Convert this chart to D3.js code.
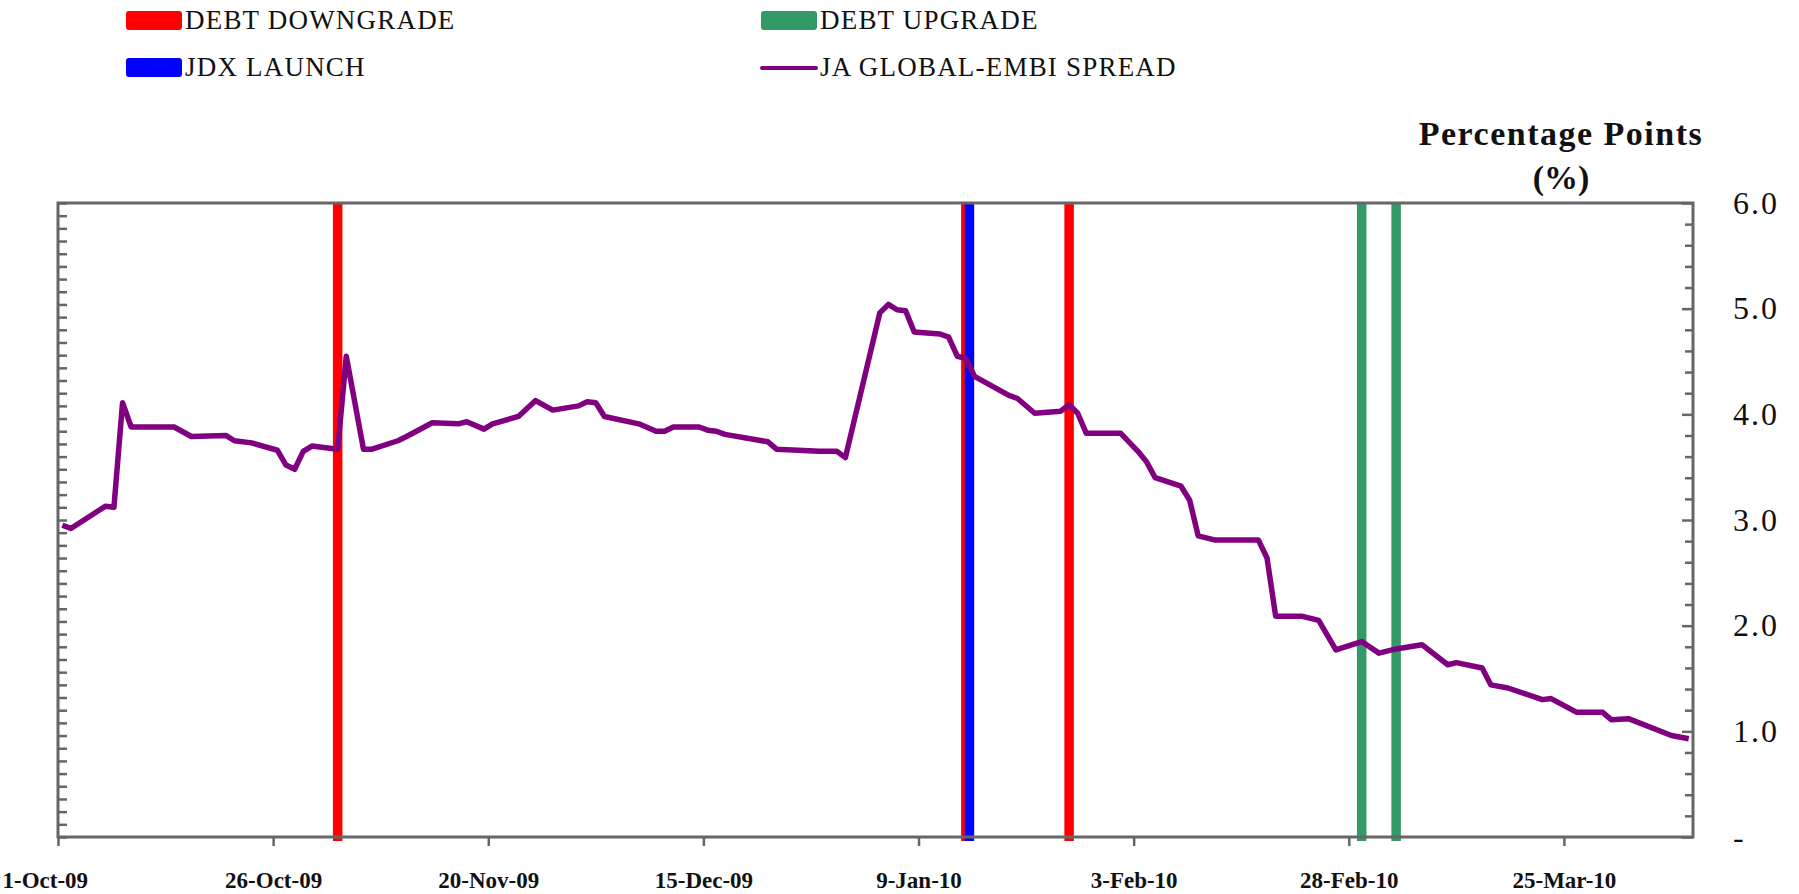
<!DOCTYPE html>
<html>
<head>
<meta charset="utf-8">
<title>JA Global-EMBI Spread</title>
<script src="https://d3js.org/d3.v7.min.js"></script>
<style>
  body { margin: 0; background: #fff; }
  svg { display: block; font-family: "Liberation Serif", "Times New Roman", serif; }
</style>
</head>
<body>
<div id="chart"></div>
<script>

// purple series: date / spread in percentage points
const spreadDates = [
  "2009-10-01","2009-10-02","2009-10-06","2009-10-07","2009-10-08","2009-10-09","2009-10-14","2009-10-16",
  "2009-10-20","2009-10-21","2009-10-23","2009-10-26","2009-10-27","2009-10-28","2009-10-29","2009-10-30",
  "2009-11-02","2009-11-03","2009-11-05","2009-11-06","2009-11-09","2009-11-10","2009-11-13","2009-11-16",
  "2009-11-17","2009-11-19","2009-11-20","2009-11-23","2009-11-25","2009-11-27","2009-11-30","2009-12-01",
  "2009-12-02","2009-12-03","2009-12-07","2009-12-09","2009-12-10","2009-12-11","2009-12-14","2009-12-15",
  "2009-12-16","2009-12-17","2009-12-22","2009-12-23","2009-12-28","2009-12-30","2009-12-31","2010-01-04",
  "2010-01-05","2010-01-06","2010-01-07","2010-01-08","2010-01-11","2010-01-12","2010-01-13","2010-01-14",
  "2010-01-15","2010-01-19","2010-01-20","2010-01-22","2010-01-25","2010-01-26","2010-01-27","2010-01-28",
  "2010-02-01","2010-02-03","2010-02-04","2010-02-05","2010-02-08","2010-02-09","2010-02-10","2010-02-12",
  "2010-02-17","2010-02-18","2010-02-19","2010-02-22","2010-02-24","2010-02-26","2010-03-01","2010-03-03",
  "2010-03-05","2010-03-08","2010-03-11","2010-03-12","2010-03-15","2010-03-16","2010-03-18","2010-03-22",
  "2010-03-23","2010-03-26","2010-03-29","2010-03-30","2010-04-01","2010-04-06","2010-04-08"
];
const spreadValues = [
  2.95,2.92,3.13,3.12,4.11,3.88,3.88,3.79,
  3.80,3.75,3.73,3.66,3.52,3.48,3.65,3.70,
  3.67,4.55,3.67,3.67,3.75,3.79,3.92,3.91,
  3.93,3.86,3.91,3.98,4.13,4.04,4.08,4.12,
  4.11,3.98,3.91,3.84,3.84,3.88,3.88,3.85,
  3.84,3.81,3.74,3.67,3.65,3.65,3.59,4.96,
  5.04,4.99,4.98,4.78,4.76,4.73,4.55,4.53,
  4.36,4.18,4.15,4.01,4.03,4.09,4.01,3.82,
  3.82,3.65,3.55,3.40,3.32,3.19,2.85,2.81,
  2.81,2.64,2.09,2.09,2.05,1.77,1.85,1.74,
  1.78,1.82,1.63,1.65,1.60,1.44,1.41,1.30,
  1.31,1.18,1.18,1.11,1.12,0.96,0.93
];

// event markers
const downgradeDates = ["2009-11-02 00:00", "2010-01-14 00:00", "2010-01-26 00:00"];
const launchDates = ["2010-01-14 10:00"];
const upgradeDates = ["2010-03-01 00:00", "2010-03-05 00:00"];

const xDomain = ["2009-10-01", "2010-04-09"];
const xTickDates = ["2009-10-01","2009-10-26","2009-11-20","2009-12-15","2010-01-09","2010-02-03","2010-02-28","2010-03-25"];
const yTickValues = [0, 1, 2, 3, 4, 5, 6];
const yMinorValues = [0.2,0.4,0.6,0.8,1.2,1.4,1.6,1.8,2.2,2.4,2.6,2.8,3.2,3.4,3.6,3.8,4.2,4.4,4.6,4.8,5.2,5.4,5.6,5.8];

const legendLabels = ["DEBT DOWNGRADE", "JDX LAUNCH", "DEBT UPGRADE", "JA GLOBAL-EMBI SPREAD"];
const legendColors = ["#ff0000", "#0000ff", "#339966", "#800080"];

const W = 1799, H = 894;
const margin = {left: 58, right: 106, top: 203, bottom: 57};
const parseDay = d3.utcParse("%Y-%m-%d");
const parseTime = d3.utcParse("%Y-%m-%d %H:%M");
const axisColor = "#666666";

function createSVG() {
  return d3.select("#chart").append("svg")
    .attr("width", W)
    .attr("height", H)
    .attr("viewBox", [0, 0, W, H]);
}

function drawChart(svg) {
  const x = d3.scaleUtc()
    .domain(xDomain.map(parseDay))
    .range([margin.left, W - margin.right]);
  const y = d3.scaleLinear()
    .domain([0, 6])
    .range([H - margin.bottom, margin.top]);
  // hidden primary axis, only its 50 ticks show on the left border
  const yLeft = d3.scaleLinear()
    .domain([0, 50])
    .range([H - margin.bottom, margin.top]);

  // excel puts each day in the middle of its slot
  const xs = d => x(d3.utcHour.offset(d, 12));

  const bottom = H - margin.bottom;

  // event bars
  const events = [
    {dates: downgradeDates, color: legendColors[0]},
    {dates: upgradeDates, color: legendColors[2]},
    {dates: launchDates, color: legendColors[1]}
  ];
  events.forEach(ev => {
    svg.append("g").selectAll("line")
      .data(ev.dates.map(parseTime))
      .join("line")
        .attr("x1", d => xs(d))
        .attr("x2", d => xs(d))
        .attr("y1", y(6))
        .attr("y2", bottom + 4)
        .attr("stroke", ev.color)
        .attr("stroke-width", 9.5);
  });

  // frame
  svg.append("rect")
    .attr("x", margin.left)
    .attr("y", margin.top)
    .attr("width", W - margin.left - margin.right)
    .attr("height", bottom - margin.top)
    .attr("fill", "none")
    .attr("stroke", axisColor)
    .attr("stroke-width", 3);

  // left ticks
  const gl = svg.append("g")
    .attr("transform", `translate(${margin.left},0)`)
    .call(d3.axisRight(yLeft).ticks(50).tickSize(9).tickFormat(""));
  gl.select(".domain").remove();

  // right axis
  const gr = svg.append("g")
    .attr("transform", `translate(${W - margin.right},0)`)
    .call(d3.axisRight(y).tickValues(yTickValues).tickSize(-11).tickPadding(40)
      .tickFormat(v => v === 0 ? "-" : d3.format(".1f")(v)));
  gr.select(".domain").remove();
  gr.selectAll("text")
    .attr("text-anchor", "start")
    .attr("font-family", "Liberation Serif, Times New Roman, serif")
    .attr("font-size", 32)
    .attr("letter-spacing", 2)
    .attr("fill", "#111");

  const gm = svg.append("g")
    .attr("transform", `translate(${W - margin.right},0)`)
    .call(d3.axisRight(y).tickValues(yMinorValues).tickSize(-8).tickFormat(""));
  gm.select(".domain").remove();

  // bottom axis
  const fmt = d3.utcFormat("%-d-%b-%y");
  const gb = svg.append("g")
    .attr("transform", `translate(0,${bottom})`)
    .call(d3.axisBottom(x).tickValues(xTickDates.map(parseDay)).tickSize(9).tickPadding(26).tickFormat(fmt));
  gb.select(".domain").remove();
  gb.selectAll("text")
    .attr("font-family", "Liberation Serif, Times New Roman, serif")
    .attr("font-size", 23)
    .attr("font-weight", "bold")
    .attr("fill", "#111");
  // first label is pushed in so it starts at the page edge
  gb.selectAll(".tick").filter((d, i) => i === 0).select("text")
    .attr("text-anchor", "start")
    .attr("x", 2 - margin.left);

  svg.selectAll(".tick line")
    .attr("stroke", axisColor)
    .attr("stroke-width", 2.5);

  // spread line
  const pts = spreadDates.map((d, i) => [parseDay(d), spreadValues[i]]);
  svg.append("path")
    .datum(pts)
    .attr("fill", "none")
    .attr("stroke", legendColors[3])
    .attr("stroke-width", 5.5)
    .attr("stroke-linejoin", "round")
    .attr("d", d3.line().x(d => xs(d[0])).y(d => y(d[1])));

  // axis title
  const title = svg.append("g")
    .attr("font-weight", "bold")
    .attr("font-size", 34)
    .attr("text-anchor", "middle")
    .attr("fill", "#111");
  title.append("text").attr("x", 1561).attr("y", 145).attr("letter-spacing", 1.5).text("Percentage Points");
  title.append("text").attr("x", 1561).attr("y", 189).text("(%)");
}

function drawLegend(svg) {
  const items = legendLabels.map((label, i) => ({label, color: legendColors[i], col: Math.floor(i / 2), row: i % 2}));
  const leg = svg.append("g")
    .selectAll("g")
    .data(items)
    .join("g")
      .attr("transform", d => `translate(${126 + d.col * 635},${11 + d.row * 47})`);

  leg.filter(d => d.label !== legendLabels[3]).append("rect")
    .attr("width", 56)
    .attr("height", 19)
    .attr("rx", 3)
    .attr("fill", d => d.color);

  leg.filter(d => d.label === legendLabels[3]).append("line")
    .attr("x1", 1).attr("x2", 55)
    .attr("y1", 10).attr("y2", 10)
    .attr("stroke", d => d.color)
    .attr("stroke-width", 4)
    .attr("stroke-linecap", "round");

  leg.append("text")
    .attr("x", 59)
    .attr("y", 18)
    .attr("font-size", 27)
    .attr("letter-spacing", 1.2)
    .attr("fill", "#111")
    .text(d => d.label);
}

const svg = createSVG();
drawChart(svg);
drawLegend(svg);

</script>
</body>
</html>
